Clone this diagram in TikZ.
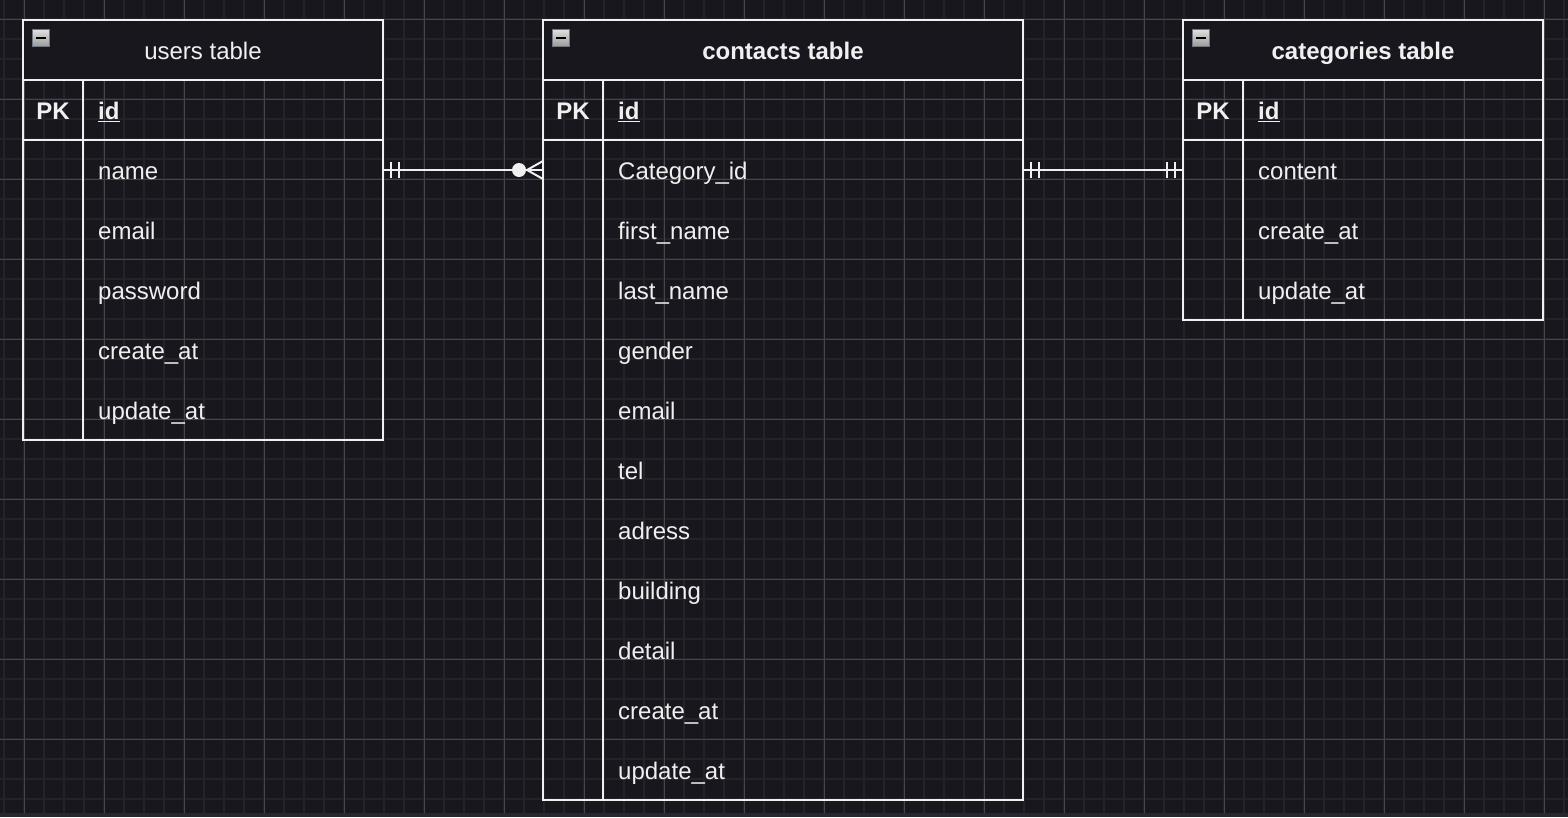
\documentclass[tikz,border=0pt]{standalone}
\usepackage{fontspec}
\setmainfont{Liberation Sans}
\usetikzlibrary{calc}

\definecolor{canvas}{HTML}{19171E}
\definecolor{strip}{HTML}{2A2630}
\definecolor{gridminor}{HTML}{25232A}
\definecolor{gridmajor}{HTML}{46454A}
\definecolor{ink}{HTML}{F0F0F0}
\definecolor{icongray}{HTML}{6F7780}
\definecolor{iconlight}{HTML}{E2E2E2}
\definecolor{icondark}{HTML}{9C9C9C}

\tikzset{
  tableline/.style={draw=ink, line width=2pt},
  conn/.style={draw=ink, line width=2pt},
  title/.style={text=ink, inner sep=0pt, font=\fontsize{24}{28}\selectfont, text height=23pt, text depth=4pt},
  pktext/.style={text=ink, inner sep=0pt, font=\fontsize{24}{28}\selectfont\bfseries, text height=23pt, text depth=4pt},
  fieldrow/.style={anchor=west, text=ink, inner xsep=75pt, inner ysep=0pt, align=left,
    font=\fontsize{24}{28}\selectfont, text height=23pt, text depth=4pt}
}

\newcommand{\collapse}[2]{
  \draw[draw=icongray, top color=iconlight, bottom color=icondark] (#1,#2) rectangle ++(17,17);
  \draw[black, line width=2pt] (#1+3.5,#2+8.5) -- ++(10,0);}
\newcommand{\ertable}[3]{
  \draw[tableline, fill=canvas] (#1,20) rectangle (#2,80);
  \draw[tableline] (#1,80) rectangle (#2,140);
  \draw[tableline] (#1,140) rectangle (#2,#3);
  \draw[tableline] (#1+60,80) -- (#1+60,#3);
  \collapse{#1+9}{29}}
\newcommand{\fieldrow}[5]{\node[fieldrow, text width=#4pt] (#1) at (#2,#3) {#5};}
\newcommand{\onebar}[2]{\draw[conn] ([xshift=#2pt, yshift=8pt]#1) -- ++(0,16);}

\begin{document}
\begin{tikzpicture}[x=1pt, y=-1pt]
        \useasboundingbox (0,0) rectangle (1568,817);
        \fill[canvas] (0,0) rectangle (1568,817);
        \fill[strip] (0,813) rectangle (1568,817);

        % grid
        \foreach \gx in {4,24,...,1564} \draw[gridminor, line width=1.6pt] (\gx,0) -- (\gx,813);
        \foreach \gy in {19,39,...,799} \draw[gridminor, line width=1.6pt] (0,\gy) -- (1568,\gy);
        \foreach \gx in {24,104,...,1544} \draw[gridmajor, line width=0.8pt] (\gx,0) -- (\gx,813);
        \foreach \gy in {19,99,...,739} \draw[gridmajor, line width=0.8pt] (0,\gy) -- (1568,\gy);

        % users table
        \ertable{23}{383}{440}
        \node[title] (users-title) at (203,50) {users table};
        \node[pktext] (users-pk) at (53,110) {PK};
        \fieldrow{users-id}{23}{110}{210}{\textbf{\underline{id}}}
        \fieldrow{users-name}{23}{170}{210}{name}
        \fieldrow{users-email}{23}{230}{210}{email}
        \fieldrow{users-password}{23}{290}{210}{password}
        \fieldrow{users-create}{23}{350}{210}{create\_at}
        \fieldrow{users-update}{23}{410}{210}{update\_at}

        % contacts table
        \ertable{543}{1023}{800}
        \node[title, font=\fontsize{24}{28}\selectfont\bfseries] (contacts-title) at (783,50) {contacts table};
        \node[pktext] (contacts-pk) at (573,110) {PK};
        \fieldrow{contacts-id}{543}{110}{330}{\textbf{\underline{id}}}
        \fieldrow{contacts-category}{543}{170}{330}{Category\_id}
        \fieldrow{contacts-first}{543}{230}{330}{first\_name}
        \fieldrow{contacts-last}{543}{290}{330}{last\_name}
        \fieldrow{contacts-gender}{543}{350}{330}{gender}
        \fieldrow{contacts-email}{543}{410}{330}{email}
        \fieldrow{contacts-tel}{543}{470}{330}{tel}
        \fieldrow{contacts-adress}{543}{530}{330}{adress}
        \fieldrow{contacts-building}{543}{590}{330}{building}
        \fieldrow{contacts-detail}{543}{650}{330}{detail}
        \fieldrow{contacts-create}{543}{710}{330}{create\_at}
        \fieldrow{contacts-update}{543}{770}{330}{update\_at}

        % categories table
        \ertable{1183}{1543}{320}
        \node[title, font=\fontsize{24}{28}\selectfont\bfseries] (categories-title) at (1363,50) {categories table};
        \node[pktext] (categories-pk) at (1213,110) {PK};
        \fieldrow{categories-id}{1183}{110}{210}{\textbf{\underline{id}}}
        \fieldrow{categories-content}{1183}{170}{210}{content}
        \fieldrow{categories-create}{1183}{230}{210}{create\_at}
        \fieldrow{categories-update}{1183}{290}{210}{update\_at}

        % users -- contacts
        \draw[conn] (users-name.east) -- (contacts-category.west);
        \onebar{users-name.east}{8}
        \onebar{users-name.east}{16}
        \fill[ink] ([xshift=-24pt]contacts-category.west) circle[radius=7pt];
        \draw[conn] ([yshift=-9pt]contacts-category.west) -- ([xshift=-16pt]contacts-category.west) -- ([yshift=9pt]contacts-category.west);

        % contacts -- categories
        \draw[conn] (contacts-category.east) -- (categories-content.west);
        \onebar{contacts-category.east}{8}
        \onebar{contacts-category.east}{16}
        \onebar{categories-content.west}{-8}
        \onebar{categories-content.west}{-16}
\end{tikzpicture}
\end{document}
